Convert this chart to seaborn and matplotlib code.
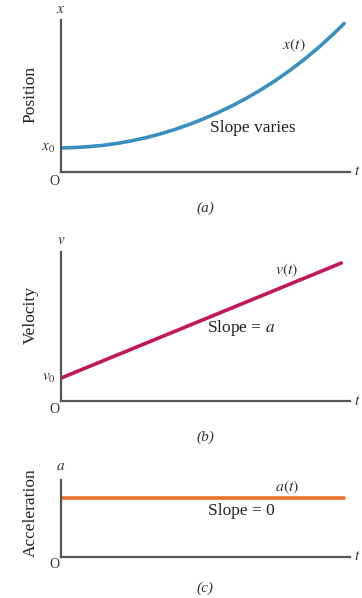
import numpy as np
import pandas as pd
import matplotlib
matplotlib.use('Agg')
import matplotlib.pyplot as plt
import seaborn as sns

# values (time and quantity scaled 0..1)
t_pos = [0.0, 0.05, 0.1, 0.15, 0.2, 0.25, 0.3, 0.35, 0.4, 0.45, 0.5,
         0.55, 0.6, 0.65, 0.7, 0.75, 0.8, 0.85, 0.9, 0.95, 0.99]
x_pos = [0.158, 0.161, 0.167, 0.176, 0.189, 0.206, 0.227, 0.252, 0.281, 0.314, 0.351,
         0.392, 0.437, 0.487, 0.542, 0.602, 0.668, 0.740, 0.818, 0.903, 0.977]

t_vel = [0.0, 0.98]
v_vel = [0.154, 0.926]

t_acc = [0.0, 0.99]
a_acc = [0.766, 0.766]

panels = [
    {'t': t_pos, 'y': x_pos, 'color': '#3a8fc0', 'ylabel': 'Position', 'axis': '$x$',
     'start': '$x_0$', 'curve': '$x(t)$', 'slope': 'Slope varies', 'tag': '(a)'},
    {'t': t_vel, 'y': v_vel, 'color': '#c2185b', 'ylabel': 'Velocity', 'axis': '$v$',
     'start': '$v_0$', 'curve': '$v(t)$', 'slope': 'Slope = $a$', 'tag': '(b)'},
    {'t': t_acc, 'y': a_acc, 'color': '#e8702a', 'ylabel': 'Acceleration', 'axis': '$a$',
     'start': None, 'curve': '$a(t)$', 'slope': 'Slope = 0', 'tag': '(c)'},
]

# axes boxes in figure fractions
boxes = [
    [0.1685, 0.7124, 0.798, 0.2542],
    [0.1685, 0.3294, 0.798, 0.2492],
    [0.1685, 0.0686, 0.798, 0.1288],
]

# text positions (axes data coords)
curve_pos = [(0.813, 0.836), (0.79, 0.879), (0.79, 0.909)]
slope_pos = [(0.671, 0.29), (0.63, 0.49), (0.63, 0.597)]
top_pos = [1.066, 1.08, 1.17]
label_y = [0.507, 0.577, 0.58]
origin_y = [-0.06, -0.06, -0.10]
tag_y = [-0.237, -0.242, -0.40]

sns.set_style('white')
plt.rcParams['font.family'] = ['Liberation Serif', 'DejaVu Serif']
plt.rcParams['mathtext.fontset'] = 'stix'

fig = plt.figure(figsize=(3.62, 5.98), dpi=100)

for i, p in enumerate(panels):
    ax = fig.add_axes(boxes[i])
    df = pd.DataFrame({'t': p['t'], 'y': p['y']})
    sns.lineplot(data=df, x='t', y='y', ax=ax, color=p['color'], linewidth=2.6)
    ax.set_xlim(0, 1.01)
    ax.set_ylim(0, 1)
    ax.set_xticks([])
    ax.set_yticks([])
    ax.set_xlabel('')
    ax.set_ylabel('')
    for side in ['top', 'right']:
        ax.spines[side].set_visible(False)
    for side in ['left', 'bottom']:
        ax.spines[side].set_color('#555555')
        ax.spines[side].set_linewidth(1.6)

    ax.text(-0.107, label_y[i], p['ylabel'], rotation=90, ha='center', va='center',
            fontsize=12.5, color='#222222', clip_on=False)
    ax.text(0.0, top_pos[i], p['axis'], ha='center', va='center', fontsize=11,
            color='#333333', clip_on=False)
    ax.text(1.035, 0.0, '$t$', ha='center', va='center', fontsize=11,
            color='#333333', clip_on=False)
    ax.text(-0.022, origin_y[i], 'O', ha='center', va='center', fontsize=10,
            color='#333333', clip_on=False)
    if p['start']:
        ax.text(-0.02, p['y'][0], p['start'], ha='right', va='center', fontsize=11,
                color='#333333', clip_on=False)
    ax.text(curve_pos[i][0], curve_pos[i][1], p['curve'], ha='center', va='center',
            fontsize=11.5, color='#333333')
    ax.text(slope_pos[i][0], slope_pos[i][1], p['slope'], ha='center', va='center',
            fontsize=12.5, color='#222222')
    ax.text(0.505, tag_y[i], p['tag'], ha='center', va='center', fontsize=11,
            style='italic', color='#333333', clip_on=False)

fig.savefig('out.png', dpi=100)
